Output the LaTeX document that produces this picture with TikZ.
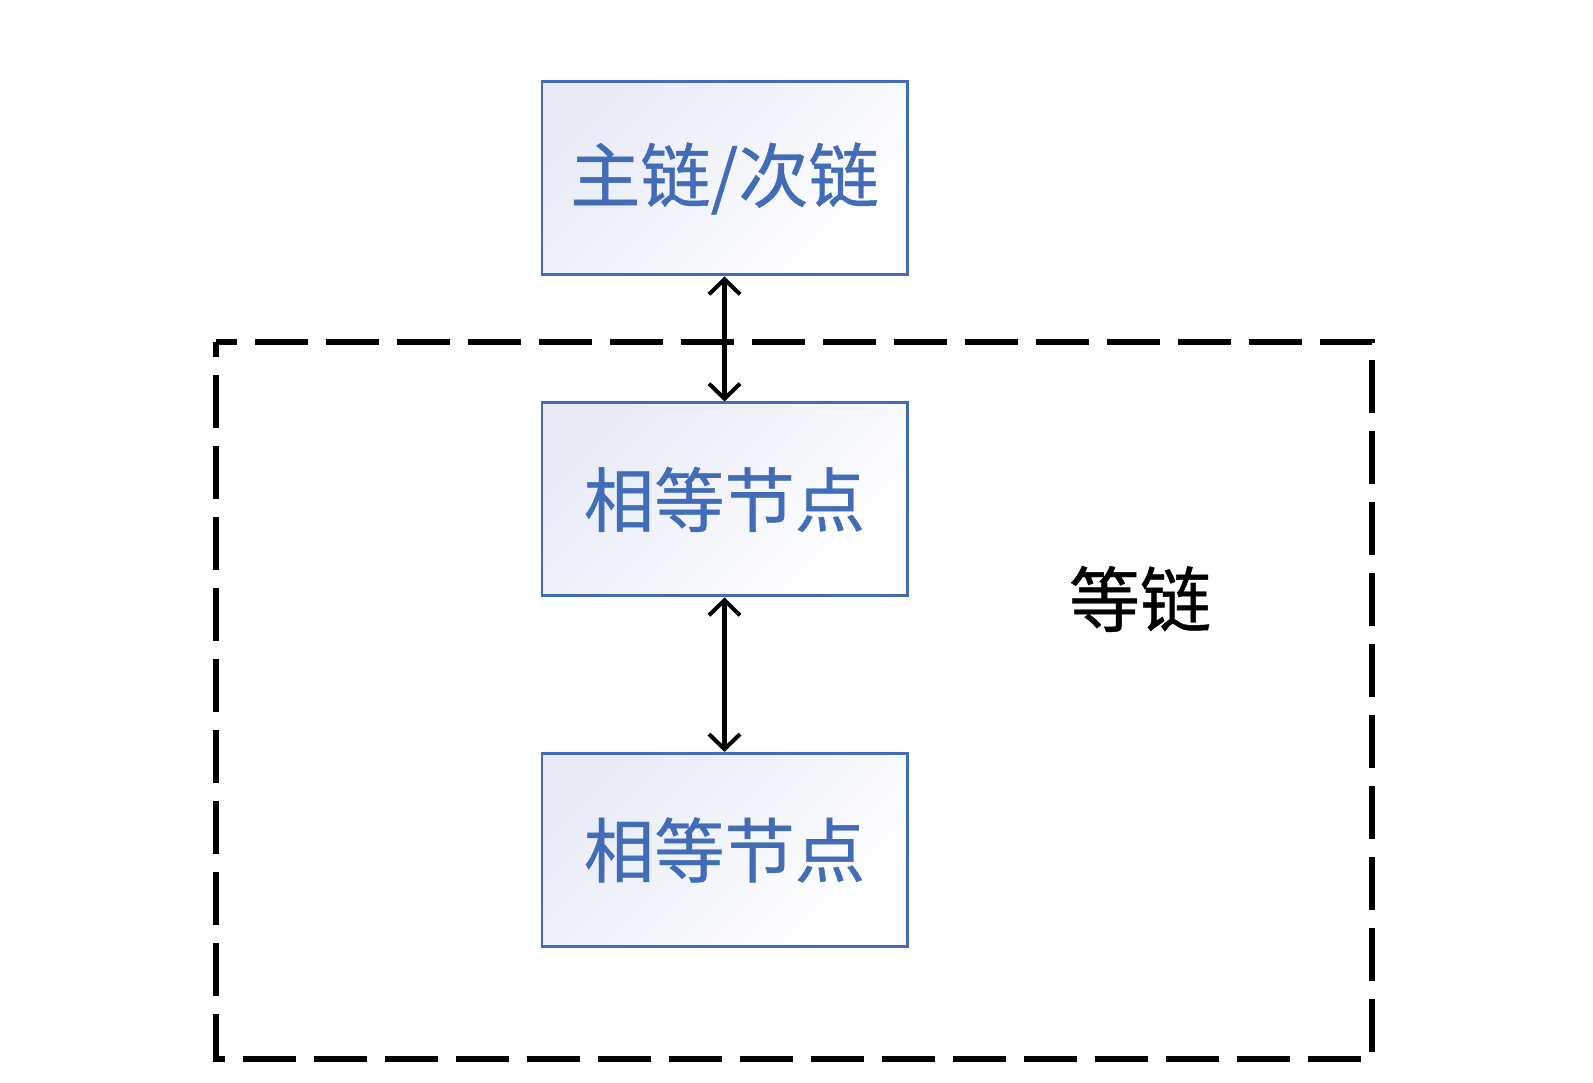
\documentclass[tikz,border=0pt]{standalone}
\usepackage{fontspec}
\newfontfamily\cjk[FakeBold=0.6]{Noto Sans CJK SC}
\usepackage{tikz}
\usetikzlibrary{positioning}
\usetikzlibrary{arrows.meta}

\definecolor{boxblue}{RGB}{66,108,184}
\definecolor{boxshade}{RGB}{232,235,246}

\begin{document}
\begin{tikzpicture}[
    chainbox/.style={draw=boxblue, line width=1.7pt, minimum width=7.3cm, minimum height=3.86cm,
        inner sep=0pt, top color=boxshade, bottom color=white, shading angle=45,
        text=boxblue, font=\cjk\fontsize{40}{42}\selectfont},
    link/.style={line width=2.3pt, {Straight Barb[length=3mm,width=6.2mm]}-{Straight Barb[length=3mm,width=6.2mm]}}
    ]
        \useasboundingbox (0,0) rectangle (31.86,21.66);

        \node[chainbox] (main) at (14.49,18.09) {主链/次链};
        \node[chainbox, below=2.50cm of main] (eq1) {相等节点};
        \node[chainbox, below=3.09cm of eq1] (eq2) {相等节点};

        \draw[link] (main.south) -- (eq1.north);
        \draw[link] (eq1.south) -- (eq2.north);

        % dashed frame of the equal chain
        \draw[line width=3.4pt, dash pattern=on 1.06cm off 0.36cm, dash phase=0.75cm] (4.32,14.82) rectangle (27.44,0.48);
        \node[font=\cjk\fontsize{40.5}{42}\selectfont] (eqlabel) at (22.8,9.68) {等链};
    \end{tikzpicture}
\end{document}
